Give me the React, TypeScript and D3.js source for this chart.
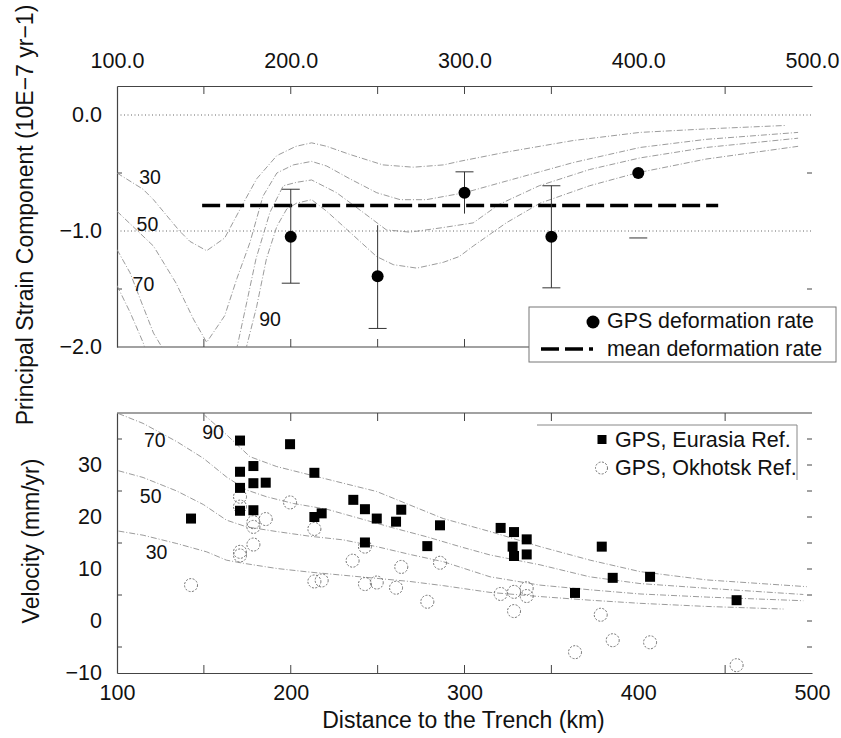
import React, { useEffect, useRef } from "react";
import * as d3 from "d3";

const FONT = "'Liberation Sans', Arial, Helvetica, sans-serif";

// top panel: GPS strain rate with error bars
const strainDist = [200, 250, 300, 350, 400];
const strainRate = [-1.05, -1.39, -0.67, -1.05, -0.5];
const strainLow = [-1.45, -1.84, -0.85, -1.49, -1.06];
const strainHigh = [-0.64, -0.95, -0.49, -0.61, NaN];
const strainCaps = ["both", "low", "high", "both", "low"];
const meanRate = -0.78;
const meanRange = [149, 446];

// model curves (coupling %), each a list of segments of [distance, value]
const strain30 = [[[100, -0.5], [115, -0.64], [121, -0.73], [136, -1.0], [142, -1.09], [151.6, -1.17], [162, -1.06], [172.7, -0.76], [180.4, -0.55], [192, -0.35], [203, -0.27], [212, -0.24], [220.7, -0.27], [234, -0.34], [253, -0.43], [270.5, -0.45], [288, -0.43], [297, -0.4], [324, -0.32], [362.6, -0.22], [401, -0.15], [439, -0.12], [485, -0.09]]];
const strain50 = [[[100, -0.83], [121, -1.13], [134, -1.45], [144, -1.76], [151.6, -1.96], [162, -1.73], [169, -1.41], [176.5, -1.1], [184, -0.7], [192, -0.5], [201.5, -0.43], [212, -0.4], [220.7, -0.44], [234, -0.55], [249.5, -0.67], [263, -0.73], [278, -0.73], [300, -0.67], [324, -0.57], [362.6, -0.41], [401, -0.28], [439, -0.21], [492, -0.15]]];
const strain70 = [
  [[100, -1.16], [107.5, -1.36], [115, -1.65], [121, -1.88], [127, -2.03]],
  [[168.7, -2.03], [174.6, -1.62], [180, -1.24], [188, -0.84], [195.7, -0.61], [203.4, -0.58], [212, -0.56], [226.4, -0.67], [241.7, -0.84], [255, -0.99], [268.6, -1.01], [287.8, -0.97], [305, -0.93], [320, -0.77], [343, -0.61], [372, -0.47], [401, -0.37], [439, -0.28], [492, -0.2]],
];
const strain90 = [
  [[100, -1.47], [107.5, -1.7], [115, -1.96], [116.5, -2.03]],
  [[174, -2.03], [180.4, -1.65], [186, -1.24], [192, -0.96], [197.7, -0.81], [203.4, -0.76], [212, -0.73], [220.7, -0.83], [234, -1.01], [249.4, -1.22], [259, -1.29], [272.5, -1.32], [287.8, -1.27], [297, -1.22], [305, -1.13], [324, -0.93], [343.5, -0.76], [372, -0.61], [399, -0.5], [439, -0.38], [492, -0.27]],
];
const strainLabels = ["30", "50", "70", "90"];
const strainLabelPos = [[119, -0.54], [117.5, -0.94], [115.2, -1.46], [188.1, -1.76]];

// bottom panel: GPS velocities
const eurDist = [142.6, 170.8, 170.8, 170.8, 170.8, 178.5, 178.5, 178.5, 185.6, 199.6, 213.6, 213.6, 217.8, 236, 242.7, 242.7, 249.5, 260.6, 263.6, 278.6, 285.9, 320.8, 328.5, 327.7, 328.5, 335.8, 335.8, 379, 385.3, 406.8, 363.6, 456.6];
const eurVel = [19.7, 34.7, 28.7, 25.6, 21.2, 29.8, 26.5, 21.3, 26.6, 34.0, 28.5, 20.0, 20.7, 23.3, 21.5, 15.1, 19.7, 19.1, 21.4, 14.4, 18.4, 17.9, 17.1, 14.3, 12.5, 15.7, 12.8, 14.3, 8.3, 8.5, 5.4, 4.0];
const okhDist = [142.6, 170.8, 170.8, 170.8, 170.8, 178.5, 178.5, 178.5, 185.6, 199.6, 213.6, 213.6, 217.8, 235.6, 242.7, 242.7, 249.5, 260.6, 263.6, 278.6, 285.9, 320.8, 328.5, 328.5, 335.8, 335.8, 378.4, 385.3, 406.8, 363.6, 456.6];
const okhVel = [6.9, 23.9, 22.0, 13.3, 12.6, 19.0, 18.1, 14.7, 19.6, 22.8, 17.7, 7.6, 7.8, 11.6, 14.3, 7.1, 7.4, 6.4, 10.4, 3.7, 11.2, 5.2, 5.6, 1.9, 6.3, 4.8, 1.2, -3.7, -4.1, -6.0, -8.5];

const vel90 = [[149.3, 39.9], [161.2, 36.4], [176.5, 31.6], [191.9, 29.7], [211, 28.1], [230.2, 26.5], [249.5, 24.9], [268.6, 22.3], [287.8, 19.7], [314.7, 17.2], [343.5, 14.3], [372.3, 11.7], [401, 9.5], [439.4, 7.9], [497, 6.6]];
const vel70 = [[100.8, 39.9], [115, 38.0], [134.4, 34.5], [149.7, 31.3], [163, 27.7], [174.6, 25.2], [186, 23.9], [201.5, 22.6], [220.7, 21.5], [239.9, 19.7], [259, 17.9], [278.2, 16.2], [297.4, 14.3], [314.7, 12.7], [343.5, 10.8], [372, 8.5], [401, 7.2], [439.4, 6.3], [495, 5.1]];
const vel50 = [[100.8, 28.9], [115, 27.6], [134.4, 25.0], [149.7, 22.4], [163, 19.4], [174.6, 18.1], [191.9, 17.2], [211, 16.3], [230.2, 15.6], [249.5, 14.3], [268.6, 12.8], [287.8, 11.4], [314.7, 8.5], [343.5, 6.9], [372.3, 6.0], [401, 5.2], [439.4, 4.6], [495, 3.9]];
const vel30 = [[100.8, 17.3], [115, 16.5], [134.4, 14.9], [151.6, 13.3], [163, 11.7], [172.7, 11.1], [191.9, 10.1], [211, 9.4], [230.2, 8.8], [249.5, 8.2], [268.6, 7.6], [287.8, 6.8], [314.7, 5.5], [343.5, 4.7], [372.3, 4.0], [401, 3.4], [439.4, 2.8], [483.6, 2.3]];
const velLabels = ["90", "70", "50", "30"];
const velLabelPos = [[155.3, 36.4], [121.8, 34.7], [119.4, 24.1], [122.8, 13.3]];

const distTicks = [100, 200, 300, 400, 500];
const minorDist = [150, 200, 250, 300, 350, 450];
const strainTicks = [0, -1, -2];
const velTicks = [-10, 0, 10, 20, 30];

function App() {
  const svgRef = useRef<SVGSVGElement>(null);

  useEffect(() => {
    const svg = d3.select(svgRef.current);
    svg.selectAll("*").remove();

    const x = d3.scaleLinear().domain([100, 500]).range([117, 812]);
    const yS = d3.scaleLinear().domain([-2, 0.25]).range([347, 86]);
    const yV = d3.scaleLinear().domain([-10, 40]).range([673, 413]);
    const axisColor = "#444";
    const curveColor = "#909090";

    const defs = svg.append("defs");
    defs.append("clipPath").attr("id", "clipTop")
      .append("rect").attr("x", 117).attr("y", 86).attr("width", 695).attr("height", 261);
    defs.append("clipPath").attr("id", "clipBot")
      .append("rect").attr("x", 117).attr("y", 413).attr("width", 695).attr("height", 260);

    const styleAxis = (g: any, size: number) => {
      g.attr("font-family", FONT).attr("font-size", size);
      g.select(".domain").attr("stroke", axisColor).attr("stroke-width", 1.2);
      g.selectAll("text").attr("fill", "#111");
    };

    // ---------- top panel ----------
    const top = svg.append("g");

    [0, -1].forEach(v => {
      top.append("line")
        .attr("x1", 117).attr("x2", 812).attr("y1", yS(v)).attr("y2", yS(v))
        .attr("stroke", "#555").attr("stroke-width", 0.9).attr("stroke-dasharray", "1,2.5");
    });

    top.append("g").attr("transform", "translate(0,86)")
      .call(d3.axisTop(x).tickValues(distTicks).tickFormat(d3.format(".1f")).tickSize(0).tickPadding(18))
      .call(g => styleAxis(g, 21.5));
    top.append("g").attr("transform", "translate(117,0)")
      .call(d3.axisLeft(yS).tickValues(strainTicks).tickFormat(d3.format(".1f")).tickSize(0).tickPadding(15))
      .call(g => styleAxis(g, 21.5));
    top.append("line").attr("x1", 117).attr("x2", 812).attr("y1", 347).attr("y2", 347)
      .attr("stroke", axisColor).attr("stroke-width", 1.2);

    minorDist.forEach(d => {
      top.append("line").attr("x1", x(d)).attr("x2", x(d)).attr("y1", 86).attr("y2", 94)
        .attr("stroke", axisColor);
      top.append("line").attr("x1", x(d)).attr("x2", x(d)).attr("y1", 347).attr("y2", 339)
        .attr("stroke", axisColor);
    });
    [-0.5, -1.5].forEach(v => {
      top.append("line").attr("x1", 117).attr("x2", 122).attr("y1", yS(v)).attr("y2", yS(v)).attr("stroke", axisColor);
      top.append("line").attr("x1", 807).attr("x2", 812).attr("y1", yS(v)).attr("y2", yS(v)).attr("stroke", axisColor);
    });

    const lineS = d3.line<number[]>().x(d => x(d[0])).y(d => yS(d[1]));
    const curvesTop = top.append("g").attr("clip-path", "url(#clipTop)");
    [strain30, strain50, strain70, strain90].forEach(curve => {
      curve.forEach(seg => {
        curvesTop.append("path").attr("d", lineS(seg))
          .attr("fill", "none").attr("stroke", curveColor).attr("stroke-width", 0.9)
          .attr("stroke-dasharray", "6,2,1,2");
      });
    });
    strainLabels.forEach((t, i) => {
      top.append("text").attr("x", x(strainLabelPos[i][0])).attr("y", yS(strainLabelPos[i][1]))
        .attr("dy", "0.35em").attr("text-anchor", "middle")
        .attr("font-family", FONT).attr("font-size", 19.5).attr("fill", "#111").text(t);
    });

    top.append("line")
      .attr("x1", x(meanRange[0])).attr("x2", x(meanRange[1]))
      .attr("y1", yS(meanRate)).attr("y2", yS(meanRate))
      .attr("stroke", "#000").attr("stroke-width", 3.5).attr("stroke-dasharray", "18,6");

    strainDist.forEach((d, i) => {
      const cx = x(d);
      if (!isNaN(strainHigh[i])) {
        top.append("line").attr("x1", cx).attr("x2", cx)
          .attr("y1", yS(strainHigh[i])).attr("y2", yS(strainLow[i]))
          .attr("stroke", "#333").attr("stroke-width", 1);
      }
      const caps = strainCaps[i];
      if (caps === "both" || caps === "high") {
        top.append("line").attr("x1", cx - 9).attr("x2", cx + 9)
          .attr("y1", yS(strainHigh[i])).attr("y2", yS(strainHigh[i])).attr("stroke", "#333");
      }
      if (caps === "both" || caps === "low") {
        top.append("line").attr("x1", cx - 9).attr("x2", cx + 9)
          .attr("y1", yS(strainLow[i])).attr("y2", yS(strainLow[i])).attr("stroke", "#333");
      }
      top.append("circle").attr("cx", cx).attr("cy", yS(strainRate[i])).attr("r", 6).attr("fill", "#000");
    });

    const legTop = top.append("g").attr("font-family", FONT).attr("font-size", 21.4).attr("fill", "#111");
    legTop.append("rect").attr("x", 529).attr("y", 307).attr("width", 307).attr("height", 55)
      .attr("fill", "#fff").attr("stroke", "#777").attr("stroke-width", 1);
    legTop.append("circle").attr("cx", 593).attr("cy", 322).attr("r", 6.5).attr("fill", "#000");
    legTop.append("text").attr("x", 607).attr("y", 328).text("GPS deformation rate");
    legTop.append("line").attr("x1", 541).attr("x2", 593).attr("y1", 349).attr("y2", 349)
      .attr("stroke", "#000").attr("stroke-width", 3.5).attr("stroke-dasharray", "18,6");
    legTop.append("text").attr("x", 607).attr("y", 355.5).text("mean deformation rate");

    // ---------- bottom panel ----------
    const bot = svg.append("g");

    bot.append("g").attr("transform", "translate(0,673)")
      .call(d3.axisBottom(x).tickValues(distTicks).tickFormat(d3.format("d")).tickSize(0).tickPadding(12))
      .call(g => styleAxis(g, 21.5));
    bot.append("g").attr("transform", "translate(117,0)")
      .call(d3.axisLeft(yV).tickValues(velTicks).tickFormat(d3.format("d")).tickSize(0).tickPadding(15))
      .call(g => styleAxis(g, 21.5));
    bot.append("line").attr("x1", 117).attr("x2", 812).attr("y1", 413).attr("y2", 413)
      .attr("stroke", axisColor).attr("stroke-width", 1.2);

    minorDist.forEach(d => {
      bot.append("line").attr("x1", x(d)).attr("x2", x(d)).attr("y1", 413).attr("y2", 421).attr("stroke", axisColor);
      bot.append("line").attr("x1", x(d)).attr("x2", x(d)).attr("y1", 673).attr("y2", 665).attr("stroke", axisColor);
    });
    [35, 25, 15, 5, -5].forEach(v => {
      bot.append("line").attr("x1", 117).attr("x2", 122).attr("y1", yV(v)).attr("y2", yV(v)).attr("stroke", axisColor);
    });
    [35, 30, 25, 20, 15, 10, 5, 0, -5].forEach(v => {
      bot.append("line").attr("x1", 807).attr("x2", 812).attr("y1", yV(v)).attr("y2", yV(v)).attr("stroke", axisColor);
    });

    const lineV = d3.line<number[]>().x(d => x(d[0])).y(d => yV(d[1]));
    const curvesBot = bot.append("g").attr("clip-path", "url(#clipBot)");
    [vel90, vel70, vel50, vel30].forEach(curve => {
      curvesBot.append("path").attr("d", lineV(curve))
        .attr("fill", "none").attr("stroke", curveColor).attr("stroke-width", 0.9)
        .attr("stroke-dasharray", "6,2,1,2");
    });
    velLabels.forEach((t, i) => {
      bot.append("text").attr("x", x(velLabelPos[i][0])).attr("y", yV(velLabelPos[i][1]))
        .attr("dy", "0.35em").attr("text-anchor", "middle")
        .attr("font-family", FONT).attr("font-size", 19.5).attr("fill", "#111").text(t);
    });

    okhDist.forEach((d, i) => {
      bot.append("circle").attr("cx", x(d)).attr("cy", yV(okhVel[i])).attr("r", 6.5)
        .attr("fill", "none").attr("stroke", "#707070").attr("stroke-width", 1)
        .attr("stroke-dasharray", "2,1.5");
    });
    eurDist.forEach((d, i) => {
      bot.append("rect").attr("x", x(d) - 5).attr("y", yV(eurVel[i]) - 5)
        .attr("width", 10).attr("height", 10).attr("fill", "#000");
    });

    const legBot = bot.append("g").attr("font-family", FONT).attr("font-size", 21.5).attr("fill", "#111");
    legBot.append("path").attr("d", "M537,425H797V480")
      .attr("fill", "none").attr("stroke", "#888").attr("stroke-width", 1);
    legBot.append("rect").attr("x", 597.5).attr("y", 435).attr("width", 9).attr("height", 9).attr("fill", "#000");
    legBot.append("text").attr("x", 615).attr("y", 447).text("GPS, Eurasia Ref.");
    legBot.append("circle").attr("cx", 601.5).attr("cy", 468).attr("r", 6)
      .attr("fill", "none").attr("stroke", "#707070").attr("stroke-dasharray", "2,1.5");
    legBot.append("text").attr("x", 615).attr("y", 475).text("GPS, Okhotsk Ref.");

    // ---------- titles ----------
    svg.append("text").attr("transform", "translate(33,215) rotate(-90)")
      .attr("text-anchor", "middle").attr("font-family", FONT).attr("font-size", 23).attr("fill", "#111")
      .text("Principal Strain Component (10E\u22127 yr\u22121)");
    svg.append("text").attr("transform", "translate(39,541) rotate(-90)")
      .attr("text-anchor", "middle").attr("font-family", FONT).attr("font-size", 23).attr("fill", "#111")
      .text("Velocity (mm/yr)");
    svg.append("text").attr("x", 463.5).attr("y", 728)
      .attr("text-anchor", "middle").attr("font-family", FONT).attr("font-size", 23).attr("fill", "#111")
      .text("Distance to the Trench (km)");
  }, []);

  return (
    <svg ref={svgRef} width={841} height={738}
      style={{ position: "absolute", left: 0, top: 0, background: "#fff" }} />
  );
}

export default App;
